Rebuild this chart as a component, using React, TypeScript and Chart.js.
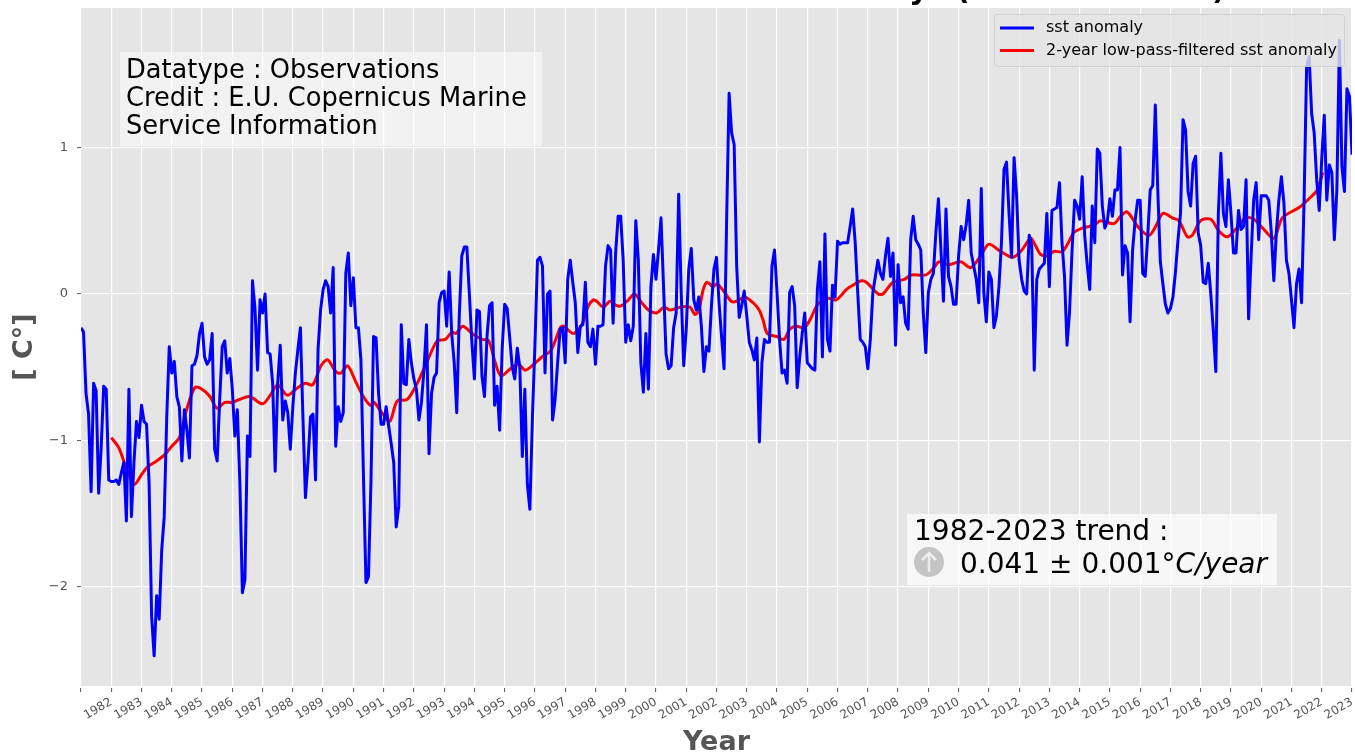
import React, { useEffect, useRef } from "react";
import { Chart, registerables } from "chart.js";

Chart.register(...registerables);

const START_YEAR = 1981;
const END_YEAR = 2023;
const Y_MIN = -2.676;
const Y_MAX = 1.952;

const yearLabels = ["", "1982","1983","1984","1985","1986","1987","1988","1989","1990","1991","1992","1993","1994","1995","1996","1997","1998","1999","2000","2001","2002","2003","2004","2005","2006","2007","2008","2009","2010","2011","2012","2013","2014","2015","2016","2017","2018","2019","2020","2021","2022","2023"];
const yTickValues = [-2, -1, 0, 1];

const sstAnomaly = [
  -0.23,-0.26,-0.68,-0.82,-1.35,-0.61,-0.66,-1.36,-1.05,-0.63,-0.65,-1.27,-1.28,
  -1.28,-1.27,-1.30,-1.22,-1.15,-1.55,-0.65,-1.52,-1.15,-0.87,-0.98,-0.76,
  -0.87,-0.89,-1.29,-2.20,-2.47,-2.06,-2.22,-1.75,-1.52,-0.84,-0.36,-0.54,
  -0.46,-0.70,-0.77,-1.14,-0.79,-0.93,-1.12,-0.49,-0.48,-0.42,-0.27,-0.20,
  -0.43,-0.48,-0.45,-0.27,-1.06,-1.14,-0.72,-0.36,-0.32,-0.54,-0.44,-0.65,
  -0.97,-0.79,-1.29,-2.04,-1.95,-0.97,-1.11,0.09,-0.10,-0.52,-0.04,-0.13,
  0.00,-0.40,-0.41,-0.61,-1.21,-0.61,-0.35,-0.86,-0.73,-0.81,-1.06,-0.77,
  -0.54,-0.38,-0.23,-0.84,-1.39,-1.15,-0.84,-0.82,-1.27,-0.38,-0.11,0.03,
  0.09,0.05,-0.13,0.18,-1.04,-0.77,-0.87,-0.81,0.14,0.28,-0.08,0.11,
  -0.23,-0.23,-0.45,-1.24,-1.97,-1.93,-1.27,-0.29,-0.30,-0.68,-0.89,-0.89,
  -0.77,-0.90,-1.02,-1.15,-1.59,-1.45,-0.21,-0.61,-0.62,-0.31,-0.47,-0.58,
  -0.65,-0.86,-0.74,-0.52,-0.21,-1.09,-0.68,-0.57,-0.54,-0.06,0.01,0.02,
  -0.22,0.15,-0.27,-0.47,-0.81,-0.15,0.26,0.32,0.32,0.00,-0.33,-0.58,
  -0.11,-0.12,-0.56,-0.70,-0.29,-0.08,-0.06,-0.76,-0.63,-0.93,-0.38,-0.07,
  -0.10,-0.30,-0.50,-0.58,-0.37,-0.50,-1.11,-0.65,-1.30,-1.47,-0.85,-0.35,
  0.23,0.25,0.19,-0.54,0.00,0.02,-0.86,-0.72,-0.47,-0.24,-0.23,-0.47,
  0.10,0.23,0.08,-0.06,-0.40,-0.22,-0.21,0.08,-0.33,-0.36,-0.24,-0.48,
  -0.22,-0.22,-0.21,0.19,0.33,0.30,-0.20,0.28,0.53,0.53,0.23,-0.33,
  -0.21,-0.32,-0.22,0.50,0.23,-0.47,-0.67,-0.27,-0.65,0.05,0.27,0.10,
  0.30,0.52,0.05,-0.41,-0.51,-0.49,-0.23,-0.13,0.68,0.01,-0.49,-0.24,
  0.17,0.31,-0.04,-0.11,-0.02,-0.22,-0.53,-0.36,-0.39,-0.08,0.17,0.25,
  -0.06,-0.29,-0.51,0.49,1.37,1.10,1.02,0.19,-0.16,-0.08,0.02,-0.15,-0.33,
  -0.38,-0.45,-0.30,-1.01,-0.47,-0.31,-0.33,-0.33,0.19,0.30,0.01,-0.31,
  -0.54,-0.52,-0.61,0.01,0.05,-0.08,-0.64,-0.43,-0.27,-0.13,-0.47,-0.49,
  -0.51,-0.52,0.03,0.22,-0.43,0.41,-0.31,-0.39,0.06,-0.02,0.36,0.34,
  0.35,0.35,0.35,0.46,0.58,0.35,0.01,-0.31,-0.33,-0.36,-0.51,-0.31,
  0.01,0.12,0.23,0.14,0.10,0.26,0.38,0.12,0.28,-0.35,0.20,-0.06,
  -0.02,-0.20,-0.24,0.37,0.53,0.37,0.34,0.30,-0.13,-0.40,0.01,0.10,
  0.14,0.42,0.65,0.30,-0.05,0.58,0.12,0.05,-0.07,-0.07,0.26,0.46,
  0.37,0.47,0.64,0.28,0.19,0.10,-0.06,0.72,0.01,-0.19,0.15,0.10,
  -0.23,-0.15,0.05,0.35,0.85,0.90,0.55,0.25,0.93,0.67,0.23,0.10,
  0.02,0.00,0.40,0.33,-0.52,0.10,0.17,0.19,0.21,0.55,0.05,0.57,
  0.58,0.59,0.76,0.35,0.12,-0.35,-0.12,0.30,0.64,0.60,0.51,0.80,
  0.40,0.20,0.03,0.60,0.35,0.99,0.96,0.60,0.45,0.50,0.65,0.53,
  0.71,0.71,1.00,0.13,0.33,0.28,-0.19,0.30,0.50,0.64,0.64,0.14,
  0.12,0.40,0.71,0.74,1.29,0.70,0.22,0.07,-0.07,-0.13,-0.10,-0.02,
  0.15,0.37,0.55,1.19,1.12,0.70,0.60,0.89,0.94,0.42,0.33,0.08,
  0.07,0.21,0.00,-0.25,-0.53,0.55,0.96,0.55,0.46,0.78,0.55,0.28,
  0.28,0.57,0.44,0.46,0.78,-0.17,0.26,0.64,0.76,0.37,0.67,0.67,
  0.67,0.64,0.42,0.09,0.42,0.64,0.80,0.62,0.23,0.14,-0.04,-0.23,
  0.07,0.17,-0.06,0.64,1.55,1.62,1.23,1.10,0.78,0.57,0.92,
  1.22,0.64,0.88,0.83,0.37,0.71,1.73,0.87,0.70,1.40,1.35,0.95,
];

const filteredYears = [
  1982.00,1982.25,1982.50,1982.76,1983.01,1983.20,1983.50,1983.75,1984.00,1984.25,1984.49,1984.76,
  1985.00,1985.26,1985.50,1985.75,1986.00,1986.24,1986.57,1987.00,1987.29,1987.50,1987.81,1988.16,
  1988.41,1988.66,1988.93,1989.15,1989.42,1989.59,1989.81,1990.08,1990.36,1990.57,1990.68,1990.94,
  1991.20,1991.45,1991.78,1992.11,1992.44,1992.77,1993.04,1993.26,1993.39,1993.62,1993.92,1994.25,
  1994.47,1994.69,1994.88,1995.19,1995.46,1995.68,1995.96,1996.23,1996.51,1996.67,1996.84,1996.95,
  1997.27,1997.55,1997.77,1997.93,1998.04,1998.26,1998.48,1998.70,1998.87,1999.09,1999.29,1999.53,
  1999.75,2000.02,2000.27,2000.46,2000.79,2001.12,2001.29,2001.42,2001.56,2001.69,2001.89,2002.02,
  2002.27,2002.49,2002.66,2002.93,2003.21,2003.41,2003.54,2003.68,2003.98,2004.23,2004.42,2004.64,
  2004.91,2005.13,2005.35,2005.68,2005.96,2006.29,2006.51,2006.78,2006.95,2007.34,2007.50,2007.83,
  2008.21,2008.43,2008.92,2009.19,2009.35,2009.68,2010.07,2010.40,2010.73,2011.00,2011.39,2011.78,
  2012.05,2012.38,2012.49,2012.71,2012.93,2013.15,2013.43,2013.65,2013.81,2014.09,2014.47,2014.69,
  2015.13,2015.35,2015.57,2015.96,2016.29,2016.51,2016.75,2017.06,2017.28,2017.56,2017.72,2018.00,
  2018.33,2018.60,2018.88,2019.15,2019.48,2019.76,2020.09,2020.42,2020.70,2021.25,2021.58,2021.85,2022.04,
];
const filteredValues = [
  -0.98,-1.05,-1.19,-1.30,-1.23,-1.18,-1.14,-1.10,-1.04,-0.98,-0.79,-0.64,
  -0.65,-0.70,-0.78,-0.74,-0.74,-0.72,-0.70,-0.75,-0.68,-0.62,-0.69,-0.64,
  -0.61,-0.62,-0.49,-0.45,-0.53,-0.54,-0.49,-0.60,-0.71,-0.76,-0.74,-0.81,
  -0.87,-0.73,-0.72,-0.61,-0.46,-0.32,-0.31,-0.26,-0.27,-0.22,-0.27,-0.31,
  -0.32,-0.47,-0.56,-0.51,-0.48,-0.52,-0.48,-0.43,-0.39,-0.32,-0.23,-0.22,
  -0.27,-0.21,-0.08,-0.04,-0.05,-0.09,-0.05,-0.08,-0.08,-0.04,0.00,-0.06,
  -0.11,-0.13,-0.09,-0.11,-0.09,-0.09,-0.14,-0.11,0.03,0.08,0.05,0.07,
  0.01,-0.05,-0.05,-0.02,-0.06,-0.11,-0.18,-0.27,-0.29,-0.31,-0.24,-0.22,
  -0.23,-0.16,-0.07,-0.03,-0.04,0.03,0.06,0.09,0.08,0.00,0.00,0.08,
  0.10,0.13,0.13,0.18,0.22,0.20,0.22,0.18,0.26,0.34,0.29,0.25,
  0.29,0.38,0.35,0.27,0.26,0.29,0.29,0.36,0.42,0.45,0.47,0.50,
  0.48,0.53,0.56,0.45,0.40,0.46,0.55,0.52,0.50,0.39,0.40,0.50,
  0.51,0.43,0.39,0.44,0.52,0.51,0.44,0.38,0.52,0.59,0.65,0.71,0.83,
];

const SST_LABEL = "sst anomaly";
const FILTERED_LABEL = "2-year low-pass-filtered sst anomaly";
const creditLines = ["Datatype : Observations", "Credit : E.U. Copernicus Marine", "Service Information"];
const trendHeading = "1982-2023 trend :";
const trendValue = "0.041 ± 0.001°";
const trendUnit = "C/year";
const titleFragments: [string, number][] = [["y", 909], ["(", 956], [")", 1212]];

const FONT = '"DejaVu Sans"';

function clearScalePadding(scale: any) {
  scale.paddingTop = 0;
  scale.paddingBottom = 0;
  scale.paddingLeft = 0;
  scale.paddingRight = 0;
}

const backgroundPlugin = {
  id: "panelBackground",
  beforeDraw(chart: any) {
    const { ctx, chartArea: a } = chart;
    ctx.save();
    ctx.fillStyle = "#E5E5E5";
    ctx.fillRect(a.left, a.top, a.right - a.left, a.bottom - a.top);
    ctx.restore();
  },
};

const annotationPlugin = {
  id: "annotations",
  afterDraw(chart: any) {
    const { ctx } = chart;
    ctx.save();

    // cropped title: only the descenders remain in the picture
    ctx.fillStyle = "#000";
    ctx.font = `bold 30px ${FONT}`;
    ctx.textBaseline = "alphabetic";
    ctx.textAlign = "left";
    titleFragments.forEach(([t, x]) => ctx.fillText(t, x, -1));

    // credit box
    ctx.fillStyle = "rgba(255,255,255,0.5)";
    ctx.fillRect(120, 52, 422, 94);
    ctx.fillStyle = "#000";
    ctx.font = `25.7px ${FONT}`;
    creditLines.forEach((t, i) => ctx.fillText(t, 126, 78 + i * 28));

    // trend box
    ctx.fillStyle = "rgba(255,255,255,0.7)";
    ctx.fillRect(907, 514, 370, 71);
    ctx.fillStyle = "#000";
    ctx.font = `28px ${FONT}`;
    ctx.fillText(trendHeading, 914, 540);
    ctx.fillText(trendValue, 960, 573);
    const w = ctx.measureText(trendValue).width;
    ctx.font = `italic 28px ${FONT}`;
    ctx.fillText(trendUnit, 960 + w, 573);

    // arrow icon
    ctx.fillStyle = "#C4C4C4";
    ctx.beginPath();
    ctx.arc(929, 562, 15, 0, Math.PI * 2);
    ctx.fill();
    ctx.strokeStyle = "#EDEDED";
    ctx.lineWidth = 2.5;
    ctx.beginPath();
    ctx.moveTo(929, 572);
    ctx.lineTo(929, 553);
    ctx.moveTo(922, 560);
    ctx.lineTo(929, 553);
    ctx.lineTo(936, 560);
    ctx.stroke();

    // legend
    ctx.fillStyle = "rgba(229,229,229,0.8)";
    ctx.strokeStyle = "rgba(204,204,204,0.8)";
    ctx.lineWidth = 1;
    ctx.beginPath();
    ctx.roundRect(994.5, 14.5, 350, 52, 3);
    ctx.fill();
    ctx.stroke();
    chart.data.datasets.forEach((d: any, i: number) => {
      const y = 28 + i * 22.5;
      ctx.strokeStyle = d.borderColor;
      ctx.lineWidth = 3;
      ctx.beginPath();
      ctx.moveTo(1000, y);
      ctx.lineTo(1034, y);
      ctx.stroke();
      ctx.fillStyle = "#000";
      ctx.font = `16px ${FONT}`;
      ctx.textBaseline = "middle";
      ctx.fillText(d.label, 1046, y);
    });
    ctx.restore();
  },
};

export default function App() {
  const ref = useRef<HTMLCanvasElement>(null);

  useEffect(() => {
    document.body.style.margin = "0";
    Chart.defaults.font.family = FONT;
    const chart = new Chart(ref.current as HTMLCanvasElement, {
      type: "line",
      data: {
        datasets: [
          {
            label: SST_LABEL,
            data: sstAnomaly.map((y, i) => ({ x: START_YEAR + i / 12, y })),
            borderColor: "#0000FF",
            borderWidth: 3,
            pointRadius: 0,
            tension: 0,
            borderJoinStyle: "round",
          },
          {
            label: FILTERED_LABEL,
            data: filteredValues.map((y, i) => ({ x: filteredYears[i], y })),
            borderColor: "#FF0000",
            borderWidth: 3,
            pointRadius: 0,
            tension: 0.3,
            borderJoinStyle: "round",
          },
        ],
      },
      options: {
        responsive: false,
        animation: false,
        layout: { autoPadding: false, padding: { top: 8, right: 3, left: 0, bottom: 0 } },
        plugins: { legend: { display: false }, title: { display: false }, tooltip: { enabled: false } },
        scales: {
          x: {
            type: "linear",
            min: START_YEAR,
            max: END_YEAR,
            afterBuildTicks(scale: any) {
              scale.ticks = yearLabels.map((_, i) => ({ value: START_YEAR + i }));
            },
            afterFit(scale: any) {
              scale.height = 69;
              clearScalePadding(scale);
            },
            ticks: {
              autoSkip: false,
              minRotation: 30,
              maxRotation: 30,
              padding: 3,
              color: "#555555",
              font: { size: 12 },
              callback: (v: any) => yearLabels[Math.round(v) - START_YEAR],
            },
            grid: {
              color: "#FFFFFF",
              lineWidth: 1.2,
              tickColor: "#555555",
              tickLength: 6,
              tickWidth: 1,
              tickBorderDash: [0.01, 2, 4, 100],
            },
            border: { display: false },
            title: {
              display: true,
              text: "Year",
              color: "#555555",
              font: { size: 27, weight: "bold", lineHeight: 1 },
              padding: { top: 0, bottom: -1 },
            },
          },
          y: {
            type: "linear",
            min: Y_MIN,
            max: Y_MAX,
            afterBuildTicks(scale: any) {
              scale.ticks = yTickValues.map((value) => ({ value }));
            },
            afterFit(scale: any) {
              scale.width = 81;
              clearScalePadding(scale);
            },
            ticks: {
              padding: 7,
              color: "#555555",
              font: { size: 13 },
              callback: (v: any) => String(v).replace("-", "\u2212"),
            },
            grid: {
              color: "#FFFFFF",
              lineWidth: 1.2,
              tickColor: "#555555",
              tickLength: 6,
              tickWidth: 1,
              tickBorderDash: [0.01, 2, 4, 100],
            },
            border: { display: false },
            title: {
              display: true,
              text: "[ C°]",
              color: "#555555",
              font: { size: 27, weight: "bold", lineHeight: 1 },
              padding: { top: 11, bottom: 0 },
            },
          },
        },
      },
      plugins: [backgroundPlugin, annotationPlugin],
    } as any);
    return () => chart.destroy();
  }, []);

  return (
    <canvas
      ref={ref}
      width={1355}
      height={755}
      style={{ display: "block", position: "absolute", left: 0, top: 0, width: 1355, height: 755 }}
    />
  );
}
